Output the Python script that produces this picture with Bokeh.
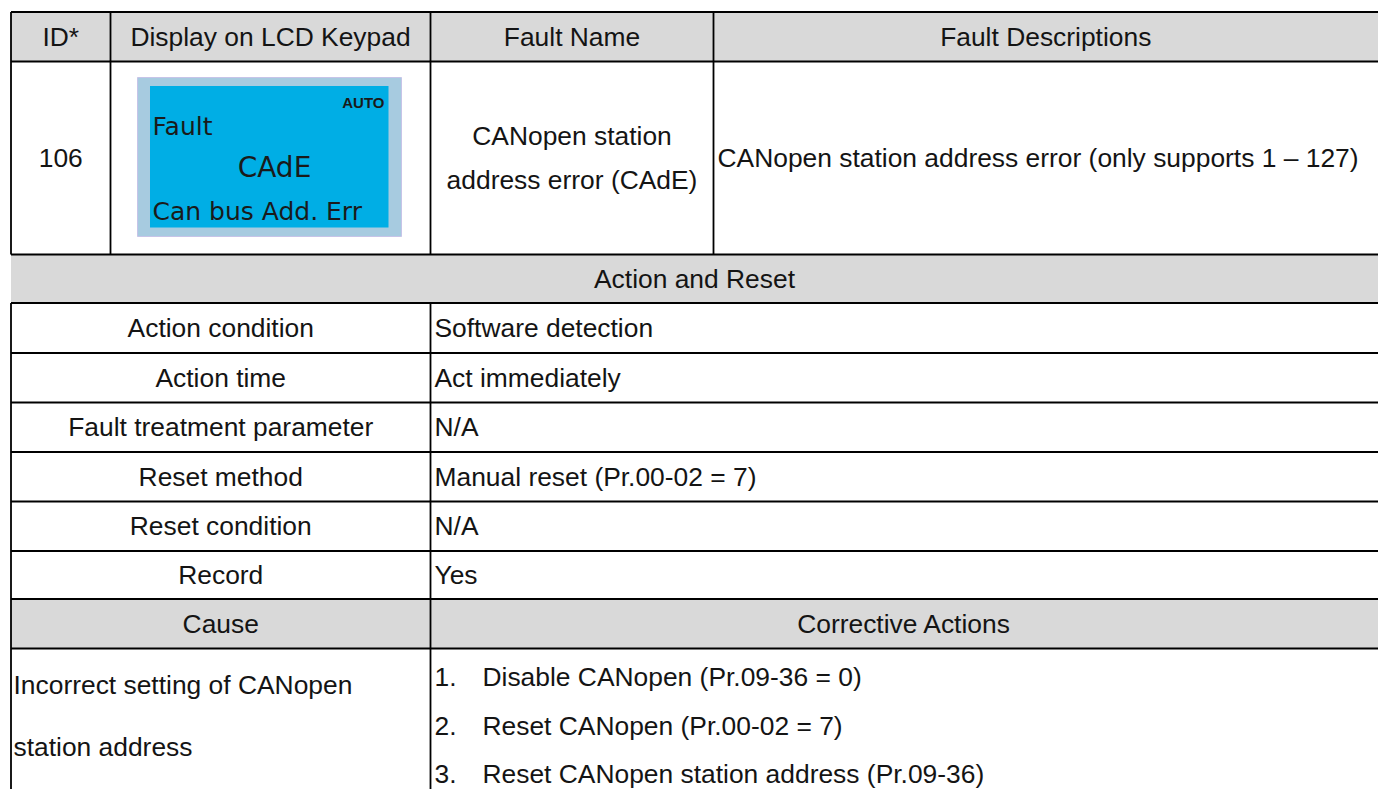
from bokeh.plotting import figure
from bokeh.models import Range1d, ColumnDataSource
from bokeh.core.properties import value
from bokeh.embed import file_html
from bokeh.resources import INLINE

# ---------------- data (table content) ----------------
header_labels = ["ID*", "Display on LCD Keypad", "Fault Name", "Fault Descriptions"]
fault_id = "106"
lcd_status = "AUTO"
lcd_title = "Fault"
lcd_code = "CAdE"
lcd_message = "Can bus Add. Err"
fault_name_lines = ["CANopen station", "address error (CAdE)"]
fault_description = "CANopen station address error (only supports 1 \u2013 127)"
section_action = "Action and Reset"
action_items = ["Action condition", "Action time", "Fault treatment parameter",
                "Reset method", "Reset condition", "Record"]
action_values = ["Software detection", "Act immediately", "N/A",
                 "Manual reset (Pr.00-02 = 7)", "N/A", "Yes"]
cause_headers = ["Cause", "Corrective Actions"]
cause_lines = ["Incorrect setting of CANopen", "station address"]
corrective_numbers = ["1.", "2.", "3."]
corrective_actions = ["Disable CANopen (Pr.09-36 = 0)",
                      "Reset CANopen (Pr.00-02 = 7)",
                      "Reset CANopen station address (Pr.09-36)"]

# ---------------- layout (page pixel coordinates) ----------------
W, H = 1378, 789
X0, X1 = 10.5, 1377.5            # table left / right borders
top_cols = [10.5, 110, 430, 713]
split_x = 430                     # split column of lower section
row_edges = [11.5, 61, 254, 302.5, 352.5, 402, 451.5, 501, 550.5, 598.5, 648, 800]
FS = 26.4
FONT = value("Liberation Sans")
TXT = "#141414"
GRAY = "#d9d9d9"

p = figure(width=W, height=H, output_backend="svg", toolbar_location=None,
           x_range=Range1d(0, W), y_range=Range1d(H, 0),
           x_axis_type=None, y_axis_type=None, min_border=0)
p.outline_line_color = None
p.grid.visible = False
p.background_fill_color = "white"
p.border_fill_color = "white"

# gray header rows
gray_rows = [0, 2, 9]
p.quad(left=[X0] * 3, right=[X1 + 10] * 3,
       top=[row_edges[i] for i in gray_rows],
       bottom=[row_edges[i + 1] for i in gray_rows],
       fill_color=GRAY, line_color=None)

# LCD panel
p.quad(left=[137], right=[401], top=[77], bottom=[236],
       fill_color="#a7cbe0", line_color="#c6c4e8", line_width=1)
p.quad(left=[149.5], right=[388], top=[85.5], bottom=[227],
       fill_color="#00aee5", line_color=None)

# grid lines
hx0, hx1, hy = [], [], []
for y in row_edges[:-1]:
    hx0.append(X0); hx1.append(X1 + 10); hy.append(y)
p.segment(x0=hx0, y0=hy, x1=hx1, y1=hy, line_color="black", line_width=1.8)
vx, vy0, vy1 = [], [], []
for x in top_cols:
    vx.append(x); vy0.append(row_edges[0]); vy1.append(row_edges[2])
for x in [X0, split_x]:
    vx.append(x); vy0.append(row_edges[3]); vy1.append(row_edges[-1])
p.segment(x0=vx, y0=vy0, x1=vx, y1=vy1, line_color="black", line_width=1.8)

def mid(i):
    return (row_edges[i] + row_edges[i + 1]) / 2

def txt(xs, ys, texts, align="center", size=FS, font=FONT, style="normal", color=TXT):
    src = ColumnDataSource(dict(x=xs, y=ys, t=texts))
    p.text(x="x", y="y", text="t", source=src, text_align=align,
           text_baseline="middle", text_font=font,
           text_font_size=f"{size}px", text_font_style=style, text_color=color)

# header row
hcx = [(top_cols[i] + top_cols[i + 1]) / 2 for i in range(3)] + [(713 + X1) / 2]
txt(hcx, [mid(0)] * 4, header_labels)

# row 1
r1 = mid(1)
txt([hcx[0]], [r1], [fault_id])
txt([hcx[2], hcx[2]], [r1 - 22, r1 + 22], fault_name_lines)
txt([717], [r1], [fault_description], align="left")

# LCD texts
lcd_font = value("DejaVu Sans")
txt([384], [102], [lcd_status], align="right", size=15, font=value("Liberation Sans"),
    style="bold", color="#1a1a1a")
txt([152], [125.5], [lcd_title], align="left", size=25, font=lcd_font, color="#1a1a1a")
txt([274], [167], [lcd_code], align="center", size=28, font=lcd_font, color="#1a1a1a")
txt([152], [211], [lcd_message], align="left", size=25, font=lcd_font, color="#1a1a1a")

# Action and Reset
txt([(X0 + X1) / 2], [mid(2)], [section_action])
left_cx = (X0 + split_x) / 2
txt([left_cx] * len(action_items), [mid(3 + i) for i in range(len(action_items))],
    action_items)
txt([434] * len(action_values), [mid(3 + i) for i in range(len(action_values))],
    action_values, align="left")

# Cause / Corrective Actions
txt([left_cx, (split_x + X1) / 2], [mid(9)] * 2, cause_headers)
txt([13, 13], [684, 746], cause_lines, align="left")
list_y = [676, 725, 773.5]
txt([434] * 3, list_y, corrective_numbers, align="left")
txt([482] * 3, list_y, corrective_actions, align="left")

open("out.html", "w").write(file_html(p, INLINE))
